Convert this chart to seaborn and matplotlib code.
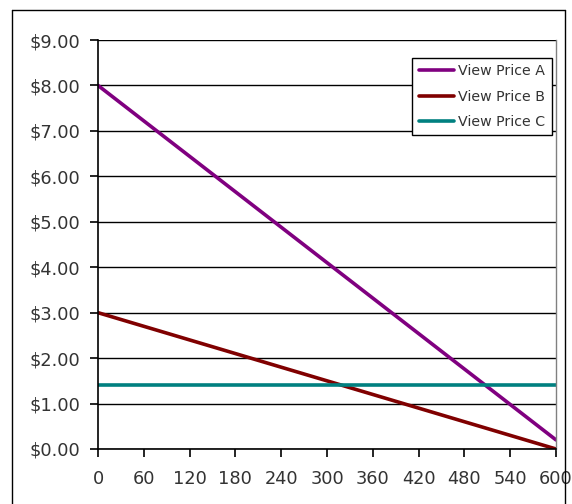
import matplotlib
matplotlib.use("Agg")
import matplotlib.pyplot as plt
import seaborn as sns
import pandas as pd
from matplotlib.lines import Line2D
from matplotlib.ticker import FuncFormatter

minutes = [0, 60, 120, 180, 240, 300, 360, 420, 480, 540, 600]
price_a = [8.00, 7.22, 6.44, 5.66, 4.88, 4.10, 3.32, 2.54, 1.76, 0.98, 0.20]
price_b = [3.00, 2.70, 2.40, 2.10, 1.80, 1.50, 1.20, 0.90, 0.60, 0.30, 0.00]
price_c = [1.40, 1.40, 1.40, 1.40, 1.40, 1.40, 1.40, 1.40, 1.40, 1.40, 1.40]
series_names = ["View Price A", "View Price B", "View Price C"]
y_ticks = [0, 1, 2, 3, 4, 5, 6, 7, 8, 9]

df = pd.DataFrame({
    "x": minutes * 3,
    "y": price_a + price_b + price_c,
    "series": [series_names[0]] * len(minutes) + [series_names[1]] * len(minutes) + [series_names[2]] * len(minutes),
})

sns.set_style("white")
plt.rcParams["font.family"] = ["DejaVu Sans"]

fig = plt.figure(figsize=(5.72, 5.04), dpi=100)
ax = fig.add_axes([98 / 572, 1 - 449 / 504, (556 - 98) / 572, (449 - 40) / 504])

palette = {series_names[0]: "#800080", series_names[1]: "#800000", series_names[2]: "#008080"}
sns.lineplot(data=df, x="x", y="y", hue="series", palette=palette, linewidth=2.6, ax=ax, legend=False)

ax.set_xlim(0, 600)
ax.set_ylim(0, 9)
ax.set_xticks(minutes)
ax.set_yticks(y_ticks)
ax.yaxis.set_major_formatter(FuncFormatter(lambda v, p: f"${v:.2f}"))
ax.set_xlabel("")
ax.set_ylabel("")
ax.grid(axis="y", color="black", linewidth=1.0)
ax.grid(axis="x", visible=False)
ax.set_axisbelow(True)
for side in ["left", "bottom"]:
    ax.spines[side].set_color("black")
    ax.spines[side].set_linewidth(1.2)
ax.spines["top"].set_visible(False)
ax.spines["right"].set_color("#808080")
ax.spines["right"].set_linewidth(1.0)
ax.tick_params(axis="both", direction="out", length=6, width=1.2, color="black",
               labelsize=12.8, labelcolor="#333333", left=True, bottom=True)
ax.tick_params(axis="y", pad=7)
ax.tick_params(axis="x", pad=9)

handles = [Line2D([0], [0], color=palette[n], linewidth=2.6) for n in series_names]
leg = ax.legend(handles, series_names, loc="upper right", bbox_to_anchor=(552 / 572, 1 - 58 / 504),
                bbox_transform=fig.transFigure, fontsize=10.2, frameon=True, fancybox=False,
                framealpha=1, edgecolor="black", handlelength=2.5, handletextpad=0.3,
                borderpad=0.45, labelspacing=0.8, borderaxespad=0, labelcolor="#333333")
leg.get_frame().set_linewidth(1.0)

# outer chart border
for xs, ys in [([12 / 572, 12 / 572], [0, 1 - 10 / 504]),
               ([12 / 572, 565 / 572], [1 - 10 / 504, 1 - 10 / 504]),
               ([565 / 572, 565 / 572], [1 - 10 / 504, 0])]:
    fig.add_artist(Line2D(xs, ys, transform=fig.transFigure, color="black", linewidth=1.0))

fig.savefig("out.png", dpi=100)
